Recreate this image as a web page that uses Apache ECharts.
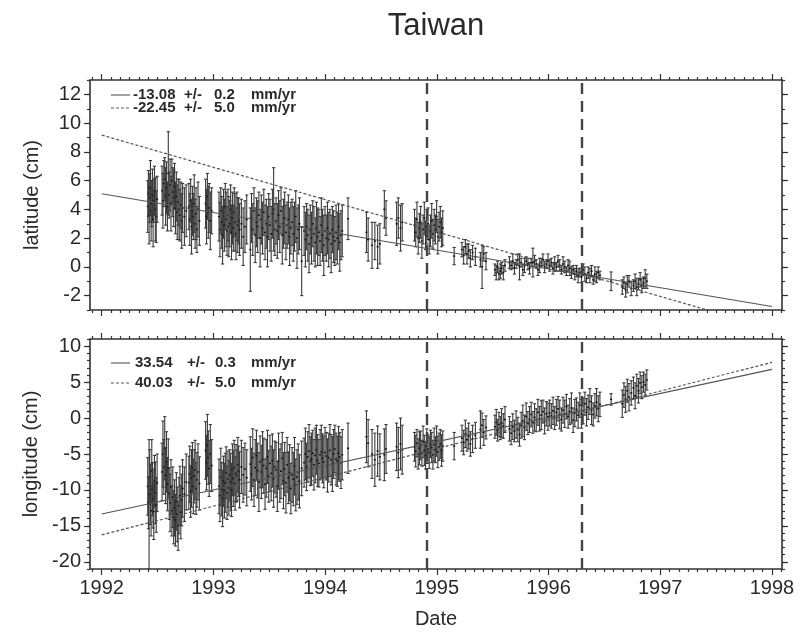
<!DOCTYPE html>
<html>
<head>
<meta charset="utf-8">
<script src="https://cdn.jsdelivr.net/npm/echarts@6/dist/echarts.min.js"></script>
<style>html,body{margin:0;padding:0;background:#fff}#chart{width:801px;height:632px}</style>
</head>
<body>
<div id="chart"></div>
<script>
// ---------- data ----------
const dates = [
  1992.412,1992.418,1992.424,1992.430,1992.436,1992.442,1992.448,1992.454,1992.460,1992.466,1992.472,1992.480,1992.488,1992.496,
  1992.540,1992.548,1992.556,1992.564,1992.572,1992.580,1992.588,1992.596,1992.604,1992.612,1992.620,1992.628,1992.636,1992.644,1992.652,1992.660,1992.668,1992.676,1992.684,1992.692,1992.700,1992.708,1992.716,1992.724,1992.740,1992.756,
  1992.780,1992.788,1992.796,1992.804,1992.812,1992.820,1992.828,1992.836,1992.844,1992.852,1992.862,1992.874,
  1992.930,1992.938,1992.946,1992.954,1992.962,1992.972,1992.984,
  1993.050,1993.058,1993.066,1993.074,1993.082,1993.090,1993.098,1993.106,1993.114,1993.122,1993.130,1993.138,1993.146,1993.154,1993.162,1993.170,1993.178,1993.186,1993.194,1993.202,1993.210,1993.218,1993.226,1993.234,1993.250,1993.266,1993.282,1993.298,
  1993.330,1993.341,1993.352,1993.363,1993.374,1993.385,1993.396,1993.407,1993.418,1993.429,
  1993.440,1993.451,1993.462,1993.473,1993.484,1993.495,1993.506,1993.517,1993.528,1993.539,
  1993.550,1993.561,1993.572,1993.583,1993.594,1993.605,1993.616,1993.627,1993.638,1993.649,
  1993.660,1993.671,1993.682,1993.693,1993.704,1993.715,1993.726,1993.737,1993.748,1993.759,
  1993.770,1993.790,
  1993.812,1993.823,1993.834,1993.845,1993.856,1993.867,1993.878,1993.889,1993.900,1993.911,
  1993.922,1993.933,1993.944,1993.955,1993.966,1993.977,1993.988,1993.999,1994.010,1994.021,
  1994.032,1994.043,1994.054,1994.065,1994.076,1994.087,1994.098,1994.109,1994.120,1994.131,
  1994.142,1994.153,
  1994.205,1994.370,1994.385,1994.420,1994.445,1994.470,1994.490,1994.530,1994.545,1994.640,1994.655,1994.675,1994.690,
  1994.800,1994.811,1994.822,1994.833,1994.844,1994.855,1994.866,1994.877,1994.888,1994.899,
  1994.910,1994.921,1994.932,1994.943,1994.954,1994.965,1994.976,1994.987,1994.998,1995.009,
  1995.020,1995.031,1995.042,1995.053,
  1995.155,1995.225,1995.240,1995.255,1995.270,1995.285,1995.300,1995.320,1995.345,1995.390,1995.405,1995.420,1995.440,
  1995.520,1995.532,1995.544,1995.556,1995.568,1995.580,1995.595,1995.610,
  1995.650,1995.665,1995.680,1995.695,1995.710,1995.725,1995.740,1995.755,1995.770,1995.785,
  1995.800,1995.815,1995.830,1995.845,1995.860,1995.875,1995.890,1995.905,1995.920,1995.935,
  1995.950,1995.965,1995.980,1995.995,
  1996.010,1996.025,1996.040,1996.055,1996.070,1996.085,1996.100,1996.115,1996.130,1996.145,
  1996.160,1996.175,1996.190,1996.205,1996.220,1996.235,1996.250,1996.265,1996.280,1996.295,
  1996.310,1996.325,1996.340,1996.355,1996.370,1996.385,1996.400,1996.415,1996.430,1996.445,
  1996.460,
  1996.560,1996.660,1996.675,1996.690,1996.705,1996.720,1996.740,1996.760,1996.775,1996.790,1996.805,1996.820,1996.835,1996.850,1996.865,1996.880
];

const latitude = [
  4.2,5.1,3.6,4.8,5.5,3.9,4.4,5.0,3.3,4.6,5.3,4.0,3.5,4.7,
  5.3,4.6,5.8,6.1,4.9,5.5,4.2,6.5,5.0,5.7,4.4,6.0,5.2,4.8,5.6,4.1,4.9,3.8,4.5,4.0,3.6,4.3,3.2,4.1,3.5,3.9,
  4.2,3.3,4.6,2.8,3.9,3.5,4.4,3.0,3.7,2.6,4.0,3.2,
  4.4,3.5,4.9,3.8,4.1,3.2,3.9,
  3.5,2.6,3.9,3.1,2.2,3.7,2.9,4.2,3.3,2.5,3.6,2.8,3.0,4.0,2.4,3.4,2.7,3.8,3.1,2.3,3.5,2.9,3.2,2.6,3.0,2.1,2.8,3.3,
  1.2,3.4,2.6,3.9,2.2,3.1,2.8,3.6,2.0,3.3,
  2.7,3.8,2.4,3.0,2.1,3.5,2.9,2.3,3.7,4.0,
  2.6,3.2,2.5,3.6,2.8,3.9,2.2,3.0,3.4,2.4,
  2.9,3.3,2.1,2.7,3.1,2.3,2.8,3.5,2.0,2.6,
  3.0,0.4,
  2.5,1.9,2.8,2.2,1.6,2.6,2.0,3.0,2.3,1.7,
  2.7,2.1,2.4,1.8,2.9,2.2,1.5,2.5,2.0,2.7,
  1.9,2.3,1.6,2.6,2.1,1.8,2.4,2.0,2.8,1.7,
  2.2,2.5,
  3.35,2.4,1.9,1.5,1.8,1.4,1.6,4.0,3.4,3.0,3.4,2.7,3.1,
  2.9,2.4,3.3,2.0,2.7,3.1,1.8,2.6,3.4,2.2,
  2.8,3.0,1.9,2.5,3.2,2.3,2.9,2.6,3.5,2.1,
  2.8,3.1,2.4,2.7,
  0.75,1.2,0.8,1.4,0.9,1.1,0.6,1.0,0.7,0.5,0.0,0.9,0.4,
  -0.2,-0.4,0.0,-0.5,-0.3,-0.1,-0.4,0.1,
  0.3,0.1,0.4,-0.1,0.2,0.5,0.0,0.3,-0.2,0.1,
  0.4,0.2,-0.1,0.3,0.3,0.4,0.2,-0.2,0.1,0.3,
  0.5,0.0,0.2,0.4,
  0.1,0.3,-0.1,0.2,0.0,0.4,0.1,-0.2,0.2,0.0,
  -0.3,0.1,-0.1,-0.4,-0.2,-0.5,-0.3,-0.6,-0.4,-0.7,
  -0.2,-0.5,-0.8,-0.4,-0.6,-0.3,-0.9,-0.5,-0.7,-0.4,
  -0.6,
  -1.0,-1.4,-1.1,-1.6,-1.2,-1.0,-1.5,-1.3,-1.0,-1.4,-1.2,-0.9,-1.3,-1.1,-0.8,-1.0
];

const latitudeErr = [
  1.8,1.6,2.0,1.7,1.9,2.1,1.6,1.8,1.9,1.5,1.7,2.2,1.8,1.6,
  1.7,1.9,1.6,1.5,2.0,1.8,1.7,2.9,1.6,1.8,1.9,1.5,1.7,2.0,1.6,1.8,1.7,1.9,1.6,2.1,1.8,1.6,1.9,1.7,2.0,1.8,
  1.6,1.8,1.5,1.9,1.7,1.6,2.0,1.7,1.8,1.6,1.9,1.7,
  1.7,1.9,1.6,1.8,1.7,2.0,1.6,
  1.7,1.9,1.6,1.8,2.0,1.7,1.8,1.6,1.9,1.7,1.8,2.1,1.6,1.7,1.9,1.8,1.6,1.7,2.0,1.8,1.7,1.9,1.6,1.8,1.7,2.0,1.8,1.7,
  2.9,1.7,1.8,1.6,1.9,1.7,1.8,1.6,2.0,1.7,
  1.8,1.6,1.9,1.7,2.1,1.6,1.8,1.9,1.7,2.9,
  1.8,1.6,1.9,1.7,1.8,1.6,2.0,1.7,1.8,1.9,
  1.6,1.7,2.0,1.8,1.6,1.9,1.7,1.8,2.1,1.7,
  1.8,2.4,
  1.7,1.9,1.6,1.8,2.0,1.7,1.8,1.6,1.9,1.7,
  1.8,2.0,1.6,1.7,1.9,1.8,2.1,1.7,1.6,1.8,
  1.9,1.7,2.0,1.6,1.8,1.7,1.9,1.8,1.6,2.0,
  1.7,1.8,
  1.45,1.4,1.5,1.6,1.3,1.5,1.4,1.3,1.2,1.5,1.4,1.6,1.3,
  1.1,1.0,1.2,1.1,1.0,1.1,1.2,1.0,1.1,1.0,
  1.2,1.1,1.0,1.1,1.2,1.0,1.1,1.0,1.1,1.2,
  1.0,1.1,1.0,1.2,
  0.6,0.5,0.6,0.5,0.7,0.5,0.6,0.5,0.6,0.5,1.5,0.5,0.6,
  0.4,0.5,0.4,0.4,0.5,0.4,0.5,0.4,
  0.4,0.3,0.5,0.4,0.3,0.4,0.9,0.3,0.4,0.5,
  0.3,0.4,0.4,0.3,1.0,0.4,0.3,0.4,0.5,0.3,
  0.4,0.4,0.3,0.5,
  0.4,0.3,0.4,0.5,0.3,0.4,0.4,0.3,0.5,0.4,
  0.3,0.4,0.5,0.4,0.3,0.4,0.4,0.5,0.3,0.4,
  0.4,0.5,0.3,0.4,0.5,0.4,0.3,0.5,0.4,0.4,
  0.3,
  0.65,0.5,0.4,0.5,0.6,0.4,0.5,0.4,0.5,0.6,0.4,0.5,0.5,0.4,0.6,0.5
];

const longitude = [
  -9.5,-11.8,-12.0,-8.2,-10.6,-12.9,-7.4,-9.9,-11.2,-13.0,-8.8,-10.4,-12.1,-9.0,
  -7.5,-5.0,-6.8,-4.2,-8.0,-6.1,-9.2,-7.0,-10.5,-11.8,-9.6,-12.9,-11.0,-13.8,-12.5,-14.2,-11.6,-13.4,-15.0,-12.2,-10.8,-13.1,-11.4,-9.8,-10.6,-8.9,
  -9.0,-7.8,-10.2,-8.4,-6.9,-9.5,-8.1,-7.2,-9.8,-8.6,-7.5,-9.1,
  -4.5,-6.2,-3.8,-5.5,-7.0,-5.0,-6.6,
  -9.5,-10.8,-8.2,-9.9,-11.2,-8.8,-10.1,-9.0,-7.6,-10.4,-8.5,-9.7,-7.9,-8.9,-10.0,-7.2,-8.4,-6.9,-9.1,-7.7,-8.0,-6.5,-7.4,-8.6,-6.8,-7.9,-7.1,-8.3,
  -6.4,-7.8,-5.5,-8.6,-6.9,-5.2,-7.3,-8.9,-6.1,-7.5,
  -5.8,-6.6,-9.2,-7.0,-5.4,-8.1,-6.3,-7.7,-5.9,-8.4,
  -6.8,-7.2,-9.5,-6.0,-8.0,-7.4,-5.6,-8.7,-7.1,-9.0,
  -6.5,-8.3,-7.6,-9.8,-7.9,-8.5,-6.7,-9.3,-8.2,-7.5,
  -8.8,-7.0,
  -6.2,-5.0,-6.8,-5.4,-4.6,-6.0,-5.7,-4.9,-6.5,-5.2,
  -4.4,-5.9,-6.3,-5.1,-4.7,-5.6,-6.1,-4.8,-5.3,-6.6,
  -5.5,-4.5,-5.8,-6.4,-5.0,-4.3,-5.7,-6.0,-4.9,-5.4,
  -6.2,-5.1,
  -4.2,-2.6,-3.5,-5.0,-5.8,-4.6,-5.4,-5.1,-4.3,-4.0,-4.8,-3.6,-4.4,
  -4.0,-4.6,-3.5,-5.0,-4.2,-3.8,-4.9,-3.3,-4.5,-5.2,
  -3.9,-4.3,-4.8,-3.6,-4.1,-5.1,-3.7,-4.4,-3.2,-4.7,
  -4.0,-3.6,-4.5,-3.9,
  -3.9,-2.8,-3.4,-2.2,-3.0,-2.5,-3.6,-2.9,-2.4,-1.6,-1.0,-2.0,-1.3,
  -1.2,-0.6,-1.7,-0.9,-1.4,-0.7,-1.1,-0.2,
  -1.5,-2.1,-1.2,-1.8,-0.9,-1.6,-2.3,-1.0,-0.4,-1.3,
  0.2,-0.7,-0.2,0.5,-0.6,0.1,-0.3,0.8,-0.1,0.4,
  0.9,-0.4,0.6,0.2,
  0.7,0.3,1.0,0.0,0.8,1.3,0.5,-0.2,1.1,0.6,
  1.6,0.2,0.9,1.4,-0.3,0.7,1.2,0.4,1.8,0.6,
  1.0,2.0,0.8,1.5,2.3,1.1,0.5,1.7,2.2,1.3,
  1.9,
  2.6,2.0,3.2,2.6,3.8,2.9,3.5,4.2,3.1,4.5,3.8,4.9,4.3,5.0,4.6,5.3
];

const longitudeErr = [
  4.0,3.6,9.0,3.8,4.2,3.5,4.4,3.7,4.1,3.9,3.6,4.3,3.8,4.0,
  4.0,4.6,3.8,4.4,3.9,4.2,3.7,4.1,3.6,4.0,3.8,3.5,4.2,3.7,3.9,3.6,4.0,3.8,3.4,3.9,4.1,3.7,3.6,4.0,3.8,3.9,
  3.7,3.9,3.6,4.0,3.5,3.8,3.7,4.1,3.6,3.8,3.9,3.7,
  4.0,3.8,4.3,3.7,3.9,4.1,3.6,
  3.8,3.6,4.0,3.7,3.9,3.5,3.8,4.1,3.6,3.7,3.9,3.8,3.5,4.0,3.7,3.6,3.9,3.8,3.7,4.0,3.6,3.8,3.5,3.9,3.7,3.8,3.6,3.9,
  3.8,3.6,4.0,3.7,3.9,3.5,3.8,4.1,3.6,3.7,
  3.9,3.8,3.5,4.0,3.7,3.6,3.9,3.8,3.7,4.0,
  3.6,3.8,3.5,3.9,3.7,3.8,3.6,3.9,3.7,4.2,
  3.8,3.6,3.9,3.5,3.8,3.7,4.0,3.6,3.8,3.9,
  3.7,3.8,
  3.4,3.6,3.3,3.5,3.7,3.4,3.6,3.2,3.5,3.8,
  3.4,3.6,3.3,3.5,3.7,3.4,3.6,3.5,3.3,3.7,
  3.4,3.6,3.5,3.8,3.4,3.3,3.6,3.5,3.7,3.4,
  3.6,3.5,
  3.5,3.6,3.3,3.4,3.7,3.5,3.2,3.6,3.4,3.3,3.5,3.6,3.4,
  2.0,2.2,1.9,2.1,2.3,2.0,1.8,2.2,2.1,1.9,
  2.4,2.0,2.2,1.9,2.1,2.0,2.3,1.8,2.1,2.2,
  1.9,2.0,2.2,2.1,
  1.9,1.8,1.7,1.9,1.6,1.8,1.7,1.9,1.8,2.6,1.7,1.8,1.6,
  1.6,1.8,1.5,1.7,1.6,2.0,1.7,1.8,
  1.7,1.6,1.8,1.5,1.9,1.7,1.6,1.8,2.2,1.7,
  1.9,1.6,1.8,1.7,1.5,1.9,1.6,1.8,1.7,2.0,
  1.6,1.8,1.7,1.9,
  1.8,1.7,1.9,1.6,1.8,1.7,2.0,1.6,1.8,1.9,
  1.7,1.6,1.8,2.1,1.7,1.9,1.6,1.8,1.7,2.0,
  1.8,1.6,1.9,1.7,1.8,2.0,1.6,1.7,1.9,1.8,
  1.7,
  0.8,1.9,1.7,1.8,1.6,1.9,1.7,1.5,1.8,1.6,1.7,1.5,1.6,1.4,1.5,1.4
];

// fitted trend lines (end points, cm)
const latFitSolid  = [[1992, 5.09], [1998, -2.76]];
const latFitDashed = [[1992, 9.17], [1998, -4.30]];
const lonFitSolid  = [[1992, -13.35], [1998, 6.77]];
const lonFitDashed = [[1992, -16.26], [1998, 7.76]];

// vertical event markers
const eventDates = [1994.907, 1996.296];

// legend texts
const latLegend = [['-13.08', '+/-', '0.2', 'mm/yr'], ['-22.45', '+/-', '5.0', 'mm/yr']];
const lonLegend = [['33.54', '+/-', '0.3', 'mm/yr'], ['40.03', '+/-', '5.0', 'mm/yr']];

// tick labels
const yearTicks = [1992, 1993, 1994, 1995, 1996, 1997, 1998];
const latTicks = [-2, 0, 2, 4, 6, 8, 10, 12];
const lonTicks = [-20, -15, -10, -5, 0, 5, 10];

// ---------- chart ----------
const X_MIN = 1991.895, X_MAX = 1998.09;
const LAT_MIN = -3, LAT_MAX = 13, LON_MIN = -21, LON_MAX = 11;
const FONT = '"Liberation Sans", Arial, Helvetica, sans-serif';
const TXT = '#2a2a2a';

const monthTicks = [];
for (let y = 1991; y <= 1998; y++) for (let m = 0; m < 12; m++) {
  const v = y + m / 12;
  if (v > X_MIN && v < X_MAX && m !== 0) monthTicks.push(+v.toFixed(4));
}
const unitTicks = (a, b) => { const r = []; for (let v = a; v <= b; v++) r.push(v); return r; };
const latMinor = unitTicks(LAT_MIN, LAT_MAX);
const lonMinor = unitTicks(LON_MIN, LON_MAX);

const latData = dates.map((d, i) => [d, latitude[i], latitudeErr[i]]);
const lonData = dates.map((d, i) => [d, longitude[i], longitudeErr[i]]);

function makeX(gi, pos, ticks, len, label, name) {
  const ax = {
    gridIndex: gi, type: 'value', min: X_MIN, max: X_MAX, position: pos,
    axisLine: { show: false, onZero: false },
    splitLine: { show: false },
    axisTick: { show: true, customValues: ticks, length: len, lineStyle: { color: '#333', width: 1.2 } },
    axisLabel: { show: false }
  };
  if (label) {
    ax.axisLabel = { show: true, customValues: yearTicks, formatter: v => String(Math.round(v)),
      fontSize: 20, color: TXT, fontFamily: FONT, margin: 9 };
  }
  if (name) {
    ax.name = name; ax.nameLocation = 'middle'; ax.nameGap = 40;
    ax.nameTextStyle = { fontSize: 20, color: TXT, fontFamily: FONT };
  }
  return ax;
}
function makeY(gi, pos, min, max, ticks, len, labels, name) {
  const ax = {
    gridIndex: gi, type: 'value', min: min, max: max, position: pos,
    axisLine: { show: false, onZero: false },
    splitLine: { show: false },
    axisTick: { show: true, customValues: ticks, length: len, lineStyle: { color: '#333', width: 1.2 } },
    axisLabel: { show: false }
  };
  if (labels) {
    ax.axisLabel = { show: true, customValues: labels, formatter: v => String(Math.round(v)),
      fontSize: 20, color: TXT, fontFamily: FONT, margin: 9 };
  }
  if (name) {
    ax.name = name; ax.nameLocation = 'middle'; ax.nameGap = 48; ax.nameRotate = 90;
    ax.nameTextStyle = { fontSize: 20, color: TXT, fontFamily: FONT };
  }
  return ax;
}

const xAxis = [
  makeX(0, 'bottom', yearTicks, 6, false), makeX(0, 'bottom', monthTicks, 3, false),
  makeX(0, 'top', yearTicks, 6, false), makeX(0, 'top', monthTicks, 3, false),
  makeX(1, 'bottom', yearTicks, 6, true, 'Date'), makeX(1, 'bottom', monthTicks, 3, false),
  makeX(1, 'top', yearTicks, 6, false), makeX(1, 'top', monthTicks, 3, false)
];
const yAxis = [
  makeY(0, 'left', LAT_MIN, LAT_MAX, latTicks, 6, latTicks, 'latitude (cm)'),
  makeY(0, 'left', LAT_MIN, LAT_MAX, latMinor, 3, null),
  makeY(0, 'right', LAT_MIN, LAT_MAX, latTicks, 6, null),
  makeY(0, 'right', LAT_MIN, LAT_MAX, latMinor, 3, null),
  makeY(1, 'left', LON_MIN, LON_MAX, lonTicks, 6, lonTicks, 'longitude (cm)'),
  makeY(1, 'left', LON_MIN, LON_MAX, lonMinor, 3, null),
  makeY(1, 'right', LON_MIN, LON_MAX, lonTicks, 6, null),
  makeY(1, 'right', LON_MIN, LON_MAX, lonMinor, 3, null)
];

function errRender(params, api) {
  const t = api.value(0), v = api.value(1), e = api.value(2);
  const top = api.coord([t, v + e]);
  const bot = api.coord([t, v - e]);
  const mid = api.coord([t, v]);
  const hw = 1.6;
  const bar = { stroke: '#3a3a3a', lineWidth: 1.1 };
  return {
    type: 'group',
    children: [
      { type: 'line', shape: { x1: top[0], y1: top[1], x2: bot[0], y2: bot[1] }, style: bar },
      { type: 'line', shape: { x1: top[0] - hw, y1: top[1], x2: top[0] + hw, y2: top[1] }, style: bar },
      { type: 'line', shape: { x1: bot[0] - hw, y1: bot[1], x2: bot[0] + hw, y2: bot[1] }, style: bar },
      { type: 'line', shape: { x1: mid[0] - 1, y1: mid[1], x2: mid[0] + 1, y2: mid[1] }, style: { stroke: '#111', lineWidth: 1.5 } }
    ]
  };
}

const eventMark = {
  silent: true, symbol: ['none', 'none'], label: { show: false },
  lineStyle: { type: [11, 7], color: '#444', width: 2.4 },
  emphasis: { disabled: true },
  data: eventDates.map(d => ({ xAxis: d }))
};

function fitLine(xi, yi, data, dashed, mark) {
  const s = {
    type: 'line', xAxisIndex: xi, yAxisIndex: yi, data: data, symbol: 'none', silent: true,
    clip: true, animation: false,
    lineStyle: dashed ? { color: '#555', width: 1.2, type: [3, 2] } : { color: '#555', width: 1.1 }
  };
  if (mark) s.markLine = eventMark;
  return s;
}

// legend blocks (text samples placed inside each panel)
function legendBlock(rows, x0, ys, cols) {
  const els = [];
  rows.forEach((row, r) => {
    els.push({ type: 'line', shape: { x1: x0, y1: ys[r], x2: x0 + 19, y2: ys[r] },
      style: r === 0 ? { stroke: '#555', lineWidth: 1.1 } : { stroke: '#555', lineWidth: 1.2, lineDash: [3, 2] } });
    row.forEach((txt, c) => {
      els.push({ type: 'text', x: cols[r][c], y: ys[r],
        style: { text: txt, fontSize: 15, fontWeight: 'bold', fill: TXT, fontFamily: FONT,
          textAlign: 'left', textVerticalAlign: 'middle' } });
    });
  });
  return els;
}

const graphic = [
  { type: 'text', x: 436, y: 26, style: { text: 'Taiwan', fontSize: 31, fill: TXT, fontFamily: FONT,
    textAlign: 'center', textVerticalAlign: 'middle' } }
].concat(
  legendBlock(latLegend, 111, [95, 108], [[133, 184, 214, 251], [133, 184, 214, 251]]),
  legendBlock(lonLegend, 111, [363, 383], [[135, 187, 215, 251], [135, 187, 215, 251]])
);

const chart = echarts.init(document.getElementById('chart'), null, { renderer: 'canvas' });
chart.setOption({
  animation: false,
  backgroundColor: '#fff',
  grid: [
    { left: 90, top: 80, width: 692, height: 230, show: true, borderColor: '#333', borderWidth: 1.6, backgroundColor: 'transparent' },
    { left: 90, top: 339, width: 692, height: 230, show: true, borderColor: '#333', borderWidth: 1.6, backgroundColor: 'transparent' }
  ],
  xAxis: xAxis,
  yAxis: yAxis,
  graphic: graphic,
  series: [
    { type: 'custom', xAxisIndex: 0, yAxisIndex: 0, data: latData, encode: { x: 0, y: 1 },
      renderItem: errRender, clip: true, silent: true, animation: false },
    { type: 'custom', xAxisIndex: 4, yAxisIndex: 4, data: lonData, encode: { x: 0, y: 1 },
      renderItem: errRender, clip: true, silent: true, animation: false },
    fitLine(0, 0, latFitSolid, false, true),
    fitLine(0, 0, latFitDashed, true, false),
    fitLine(4, 4, lonFitSolid, false, true),
    fitLine(4, 4, lonFitDashed, true, false)
  ]
});
</script>
</body>
</html>
